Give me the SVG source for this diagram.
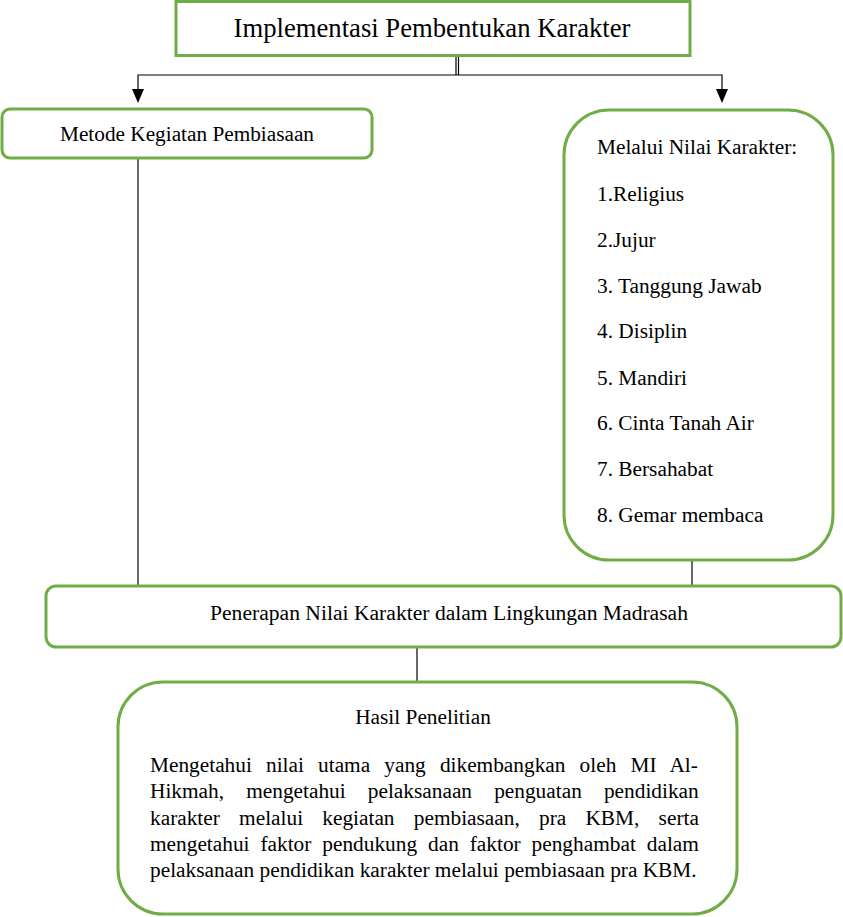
<svg xmlns="http://www.w3.org/2000/svg" width="843" height="917" viewBox="0 0 843 917">
<style>
.box{fill:#fff;stroke:#70ad47;stroke-width:3}
.t{font-family:"Liberation Serif","Times New Roman",serif;font-size:21.33px;fill:#000}
.c{text-anchor:middle}
.ln{stroke:#000;stroke-width:1.2;fill:none}
</style>
<defs>
<marker id="arr" markerWidth="12" markerHeight="14" refX="6" refY="14" orient="auto-start-reverse" markerUnits="userSpaceOnUse" viewBox="0 0 12 14">
<path d="M0,0 L12,0 L6,14 Z" fill="#000"/>
</marker>
</defs>
<g id="connectors">
<line class="ln" x1="456" y1="56" x2="456" y2="75"/>
<line class="ln" x1="458.5" y1="56" x2="458.5" y2="75"/>
<polyline class="ln" points="138,90 138,75 722,75 722,90"/>
<line x1="138" y1="88" x2="138" y2="103" stroke="none"/>
<path d="M132,89 L144,89 L138,103 Z" fill="#000"/>
<path d="M716,89 L728,89 L722,103 Z" fill="#000"/>
<line class="ln" x1="138" y1="158" x2="138" y2="585"/>
<line class="ln" x1="692" y1="560" x2="692" y2="585"/>
<line class="ln" x1="417" y1="647" x2="417" y2="682"/>
</g>
<g id="node-title">
<rect class="box" x="176" y="1.5" width="514" height="54"/>
<text class="t c" x="432" y="37" style="font-size:28px" textLength="397" lengthAdjust="spacingAndGlyphs">Implementasi Pembentukan Karakter</text>
</g>
<g id="node-metode">
<rect class="box" x="2" y="109" width="370" height="49" rx="8"/>
<text class="t c" x="187" y="141" textLength="254" lengthAdjust="spacingAndGlyphs">Metode Kegiatan Pembiasaan</text>
</g>
<g id="node-nilai">
<rect class="box" x="564" y="110" width="269" height="450" rx="45"/>
<text class="t" x="597" y="154">Melalui Nilai Karakter:</text>
<text class="t" x="597" y="201">1.Religius</text>
<text class="t" x="597" y="247">2.Jujur</text>
<text class="t" x="597" y="293">3. Tanggung Jawab</text>
<text class="t" x="597" y="338">4. Disiplin</text>
<text class="t" x="597" y="385">5. Mandiri</text>
<text class="t" x="597" y="430">6. Cinta Tanah Air</text>
<text class="t" x="597" y="476">7. Bersahabat</text>
<text class="t" x="597" y="522">8. Gemar membaca</text>
</g>
<g id="node-penerapan">
<rect class="box" x="46" y="586" width="795" height="61" rx="10"/>
<text class="t c" x="449" y="620" textLength="478" lengthAdjust="spacingAndGlyphs">Penerapan Nilai Karakter dalam Lingkungan Madrasah</text>
</g>
<g id="node-hasil">
<rect class="box" x="118" y="682" width="619" height="232" rx="45"/>
<text class="t c" x="423" y="724">Hasil Penelitian</text>
<text class="t" x="150" y="772" style="word-spacing:8.8px">Mengetahui nilai utama yang dikembangkan oleh MI Al-</text>
<text class="t" x="150" y="798" style="word-spacing:16.8px">Hikmah, mengetahui pelaksanaan penguatan pendidikan</text>
<text class="t" x="150" y="825" style="word-spacing:13.9px">karakter melalui kegiatan pembiasaan, pra KBM, serta</text>
<text class="t" x="150" y="851" style="word-spacing:5.6px">mengetahui faktor pendukung dan faktor penghambat dalam</text>
<text class="t" x="150" y="877">pelaksanaan pendidikan karakter melalui pembiasaan pra KBM.</text>
</g>
</svg>
